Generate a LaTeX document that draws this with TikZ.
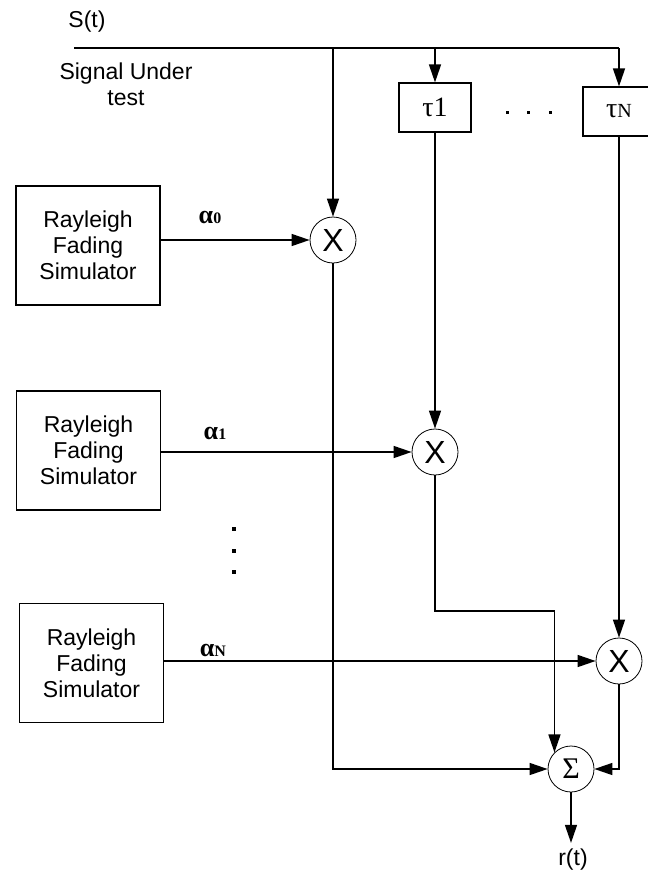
\documentclass[tikz,border=0pt]{standalone}
\usepackage{fontspec}
\setmainfont{Liberation Sans}
\newfontfamily\serifgreek{Liberation Serif}
\usetikzlibrary{arrows.meta}
\newcommand{\gain}[1]{{\serifgreek\bfseries\fontsize{13}{13}\selectfont α{\fontsize{8}{8}\selectfont #1}}}
\newcommand{\delay}[1]{{\serifgreek\fontsize{14}{14}\selectfont τ#1}}

\begin{document}
\begin{tikzpicture}[x=0.5pt, y=-0.5pt, font=\fontsize{11.5}{13}\selectfont,
    box/.style={draw, line width=0.6pt, align=center, inner sep=0pt},
    fader/.style={box, minimum width=72pt, minimum height=59.5pt},
    delaybox/.style={box, minimum width=36pt, minimum height=24.5pt},
    mult/.style={draw, circle, line width=0.4pt, minimum size=23pt, inner sep=0pt, font=\fontsize{16}{16}\selectfont},
    flow/.style={-{Triangle[length=9pt, width=6pt]}, line width=0.7pt},
    lbl/.style={inner sep=0pt}]
  \useasboundingbox (0,0) rectangle (648,873);
  % input line and taps
  \node[lbl] (st) at (87,22) {S(t)};
  \node[lbl, align=center] (sut) at (126,84) {Signal Under\\test};
  \coordinate (src) at (74,48);
  \coordinate (j0) at (333,48);
  \coordinate (j1) at (435,48);
  \coordinate (jN) at (619,48);
  \node[delaybox] (tau1) at (435,107.5) {\delay{1}};
  \node[delaybox] (tauN) at (619,111.5) {\delay{{\fontsize{10}{10}\selectfont N}}};
  \foreach \x in {507,528,550} \fill (\x-1.5,110.5) rectangle ++(3,3);
  % fading simulators
  \node[fader] (ray0) at (88,245.5) {Rayleigh\\Fading\\Simulator};
  \node[fader] (ray1) at (88.5,450.5) {Rayleigh\\Fading\\Simulator};
  \node[fader] (rayN) at (91.5,663) {Rayleigh\\Fading\\Simulator};
  \foreach \y in {529,551,572} \fill (232,\y-2) rectangle ++(4,4);
  % multipliers and sum
  \node[mult] (m0) at (333,240) {X};
  \node[mult] (m1) at (435,452) {X};
  \node[mult] (mN) at (619,661) {X};
  \node[mult, font=\serifgreek\fontsize{15}{15}\selectfont] (sum) at (571,769) {Σ};
  \node[lbl, inner sep=3pt] (rt) at (573,860) {r(t)};
  \node[lbl] (a0) at (210,217) {\gain{0}};
  \node[lbl] (a1) at (215,433) {\gain{1}};
  \node[lbl] (aN) at (213,650) {\gain{N}};
  \coordinate (k1) at (437,611);
  % connections
  \draw[line width=0.7pt] (src) -- (jN);
  \draw[flow] (j0) -- (m0);
  \draw[flow] (j1) -- (tau1);
  \draw[flow] (jN) -- (tauN);
  \draw[flow] (tau1) -- (m1);
  \draw[flow] (tauN) -- (mN);
  \draw[flow] (ray0.east |- m0) -- (m0);
  \draw[flow] (ray1.east |- m1) -- (m1);
  \draw[flow] (rayN.east |- mN) -- (mN);
  \draw[flow] (m0) |- (sum);
  \draw[flow] (mN) |- (sum);
  \draw[flow] (m1) |- (sum.north west |- k1) -- (sum.north west);
  \draw[flow] (sum) -- (sum |- rt.north);
\end{tikzpicture}
\end{document}
